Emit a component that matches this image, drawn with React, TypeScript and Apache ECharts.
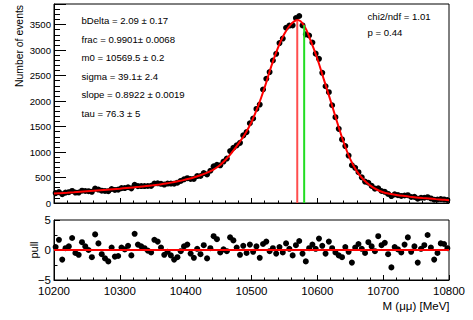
import React, { useEffect, useRef } from 'react';
import * as echarts from 'echarts';

// ---- data ----
const massMin = 10200;
const massMax = 10800;
const binWidth = 5;

// event counts per 5 MeV bin (120 bins, 10200-10800)
const counts = [
  194, 214, 173, 203, 212, 237, 205, 205, 241, 236,
  232, 219, 283, 264, 241, 235, 232, 275, 256, 262,
  292, 293, 309, 287, 357, 331, 332, 333, 334, 336,
  383, 387, 376, 362, 382, 381, 379, 399, 433, 465,
  487, 471, 474, 529, 530, 588, 561, 633, 719, 748,
  739, 813, 872, 1018, 1084, 1131, 1180, 1327, 1391, 1565,
  1658, 1846, 1932, 2227, 2438, 2570, 2796, 2927, 3138, 3227,
  3439, 3482, 3486, 3628, 3670, 3484, 3309, 3287, 3150, 2931,
  2829, 2555, 2291, 2174, 1918, 1684, 1455, 1247, 1117, 931,
  741, 690, 604, 504, 420, 397, 336, 282, 289, 236,
  220, 178, 136, 169, 154, 139, 147, 153, 118, 120,
  85, 103, 103, 114, 89, 65, 69, 77, 70, 59,
];

// pull per bin
const pulls = [
  0.5, 1.7, -1.6, 0.3, 0.6, 2.0, -0.5, -0.8, 1.3, 0.6,
  0.0, -1.2, 2.6, 1.1, -0.7, -1.4, -1.9, 0.4, -1.1, -1.0,
  0.4, 0.1, 0.7, -0.9, 2.7, 0.9, 0.6, 0.3, -0.1, -0.4,
  1.7, 1.4, 0.4, -0.8, -0.3, -0.9, -1.6, -1.2, -0.2, 0.6,
  0.9, -0.6, -1.3, 0.2, -0.7, 0.8, -1.4, 0.3, 2.3, 1.8,
  -0.4, 0.1, -0.2, 2.1, 1.6, 0.4, -0.8, 0.7, -0.5, 0.9,
  -0.3, 0.6, -1.3, 1.0, 1.4, -0.2, 0.3, -0.6, 0.5, -0.4,
  1.1, 0.2, -0.9, 0.8, 1.5, -0.6, -1.9, 0.3, 0.9, 0.2,
  1.9, 0.7, -0.6, 1.4, 0.3, -0.4, -0.9, -1.2, 0.5, -0.3,
  -2.1, 0.4, 1.0, 0.2, -0.5, 1.3, 0.6, -0.2, 2.3, 0.8,
  1.2, -0.7, -2.9, 0.5, 0.1, -0.4, 0.9, 2.1, -0.3, 0.6,
  -2.1, 0.2, 0.8, 2.5, 0.4, -1.6, -0.5, 1.1, 1.0, 0.3,
];

// fit curve sampled every 10 MeV from 10200 to 10800
const fitStep = 10;
const fitValues = [
  185, 193, 201, 210, 220, 230, 240, 250, 260, 271,
  282, 294, 306, 318, 332, 347, 364, 382, 405, 430,
  460, 492, 535, 580, 640, 720, 840, 990, 1160, 1350,
  1590, 1900, 2270, 2680, 3040, 3320, 3510, 3592, 3480, 3180,
  2830, 2420, 2010, 1590, 1190, 860, 620, 460, 345, 265,
  211, 180, 158, 140, 125, 110, 98, 88, 76, 65,
  55,
];

const markerMasses = [10569.5, 10580];
const markerHeights = [3580, 3490];
const markerColors = ['#ff4d4d', '#22dd22'];

const paramLabels = [
  'bDelta = 2.09 \u00b1 0.17',
  'frac = 0.9901\u00b1 0.0068',
  'm0 = 10569.5 \u00b1 0.2',
  'sigma = 39.1\u00b1 2.4',
  'slope = 0.8922 \u00b1 0.0019',
  'tau = 76.3 \u00b1 5',
];
const fitQualityLabels = ['chi2/ndf = 1.01', 'p = 0.44'];

const yTitle = 'Number of events';
const pullTitle = 'pull';
const xTitle = 'M (\u03bc\u03bc) [MeV]';

const FONT = '"Liberation Sans", Arial, Helvetica, sans-serif';

export default function App() {
  const ref = useRef<HTMLDivElement>(null);

  useEffect(() => {
    if (!ref.current) return;
    const chart = echarts.init(ref.current, undefined, { renderer: 'svg' });

    const binData = counts.map((c, i) => [massMin + binWidth * (i + 0.5), c]);
    const pullData = pulls.map((p, i) => [massMin + binWidth * (i + 0.5), p]);
    const fitData = fitValues.map((v, i) => [massMin + fitStep * i, v]);

    const black = '#000';
    const tickStyle = { color: black, width: 1 };

    const xCommon = (gridIndex: number, showLabels: boolean) => ({
      type: 'value',
      gridIndex,
      min: massMin,
      max: massMax,
      interval: 100,
      axisLine: { show: true, onZero: false, lineStyle: tickStyle },
      axisTick: { show: true, inside: true, length: 5, lineStyle: tickStyle },
      minorTick: { show: true, splitNumber: 5, length: 2.5, lineStyle: tickStyle },
      splitLine: { show: false },
      minorSplitLine: { show: false },
      axisLabel: {
        show: showLabels,
        color: black,
        fontFamily: FONT,
        fontSize: 11.5,
        margin: 5,
        showMinLabel: true,
        showMaxLabel: true,
        formatter: (v: number) => String(v),
      },
    });

    const option: any = {
      animation: false,
      backgroundColor: '#fff',
      grid: [
        { left: 54, top: 4, width: 395, height: 199, show: true, borderColor: black, borderWidth: 1, backgroundColor: 'transparent', containLabel: false, outerBoundsMode: 'none' },
        { left: 54, top: 220, width: 395, height: 60, show: true, borderColor: black, borderWidth: 1, backgroundColor: 'transparent', containLabel: false, outerBoundsMode: 'none' },
      ],
      xAxis: [xCommon(0, false), xCommon(1, true)],
      yAxis: [
        {
          type: 'value',
          gridIndex: 0,
          min: 0,
          max: 3905,
          interval: 500,
          position: 'left',
          axisLine: { show: true, onZero: false, lineStyle: tickStyle },
          axisTick: { show: true, inside: true, length: 12, lineStyle: tickStyle },
          splitLine: { show: false },
          axisLabel: {
            color: black,
            fontFamily: FONT,
            fontSize: 9.6,
            margin: 3,
            formatter: (v: number) => (v % 500 === 0 ? String(v) : ''),
          },
        },
        {
          type: 'value',
          gridIndex: 0,
          min: 0,
          max: 3905,
          interval: 100,
          position: 'left',
          axisLine: { show: false },
          axisTick: { show: true, inside: true, length: 6, lineStyle: tickStyle },
          splitLine: { show: false },
          axisLabel: { show: false },
        },
        {
          type: 'value',
          gridIndex: 1,
          min: -5,
          max: 5,
          interval: 5,
          position: 'left',
          axisLine: { show: true, onZero: false, lineStyle: tickStyle },
          axisTick: { show: true, inside: true, length: 6, lineStyle: tickStyle },
          minorTick: { show: true, splitNumber: 2, length: 3.5, lineStyle: tickStyle },
          splitLine: { show: false },
          minorSplitLine: { show: false },
          axisLabel: {
            color: black,
            fontFamily: FONT,
            fontSize: 11.5,
            margin: 3,
            formatter: (v: number) => (v < 0 ? '\u2212' + Math.abs(v) : String(v)),
          },
        },
      ],
      series: [
        {
          type: 'scatter',
          xAxisIndex: 0,
          yAxisIndex: 0,
          data: binData,
          symbol: 'circle',
          symbolSize: 6,
          itemStyle: { color: black, opacity: 1 },
          z: 2,
        },
        {
          type: 'line',
          xAxisIndex: 0,
          yAxisIndex: 0,
          data: fitData,
          smooth: 0.4,
          showSymbol: false,
          symbol: 'none',
          lineStyle: { color: '#ff0000', width: 2 },
          z: 3,
        },
        ...markerMasses.map((m, k) => ({
          type: 'line',
          xAxisIndex: 0,
          yAxisIndex: 0,
          data: [[m, 0], [m, markerHeights[k]]],
          showSymbol: false,
          symbol: 'none',
          lineStyle: { color: markerColors[k], width: 2 },
          z: 4,
        })),
        {
          type: 'scatter',
          xAxisIndex: 1,
          yAxisIndex: 2,
          data: pullData,
          symbol: 'circle',
          symbolSize: 6,
          itemStyle: { color: black, opacity: 1 },
          z: 2,
        },
        {
          type: 'line',
          xAxisIndex: 1,
          yAxisIndex: 2,
          data: [[massMin, 0], [massMax, 0]],
          showSymbol: false,
          symbol: 'none',
          lineStyle: { color: '#ff0000', width: 2 },
          z: 3,
        },
      ],
      graphic: [
        ...paramLabels.map((t, i) => ({
          type: 'text',
          x: 81.5,
          y: 20.5 + i * 18.5,
          style: { text: t, fill: black, fontFamily: FONT, fontSize: 9.6, align: 'left', verticalAlign: 'middle' },
        })),
        ...fitQualityLabels.map((t, i) => ({
          type: 'text',
          x: 367.5,
          y: 16.5 + i * 16,
          style: { text: t, fill: black, fontFamily: FONT, fontSize: 9.6, align: 'left', verticalAlign: 'middle' },
        })),
        {
          type: 'text',
          x: 19.5,
          y: 5,
          rotation: Math.PI / 2,
          style: { text: yTitle, fill: black, fontFamily: FONT, fontSize: 10.4, align: 'right', verticalAlign: 'middle' },
        },
        {
          type: 'text',
          x: 34,
          y: 250,
          rotation: Math.PI / 2,
          style: { text: pullTitle, fill: black, fontFamily: FONT, fontSize: 11, align: 'center', verticalAlign: 'middle' },
        },
        {
          type: 'text',
          x: 449.5,
          y: 306,
          style: { text: xTitle, fill: black, fontFamily: FONT, fontSize: 11.5, align: 'right', verticalAlign: 'middle' },
        },
      ],
    };

    chart.setOption(option);
    return () => chart.dispose();
  }, []);

  return (
    <div
      ref={ref}
      style={{ position: 'fixed', left: 0, top: 0, width: 473, height: 320, background: '#fff' }}
    />
  );
}
